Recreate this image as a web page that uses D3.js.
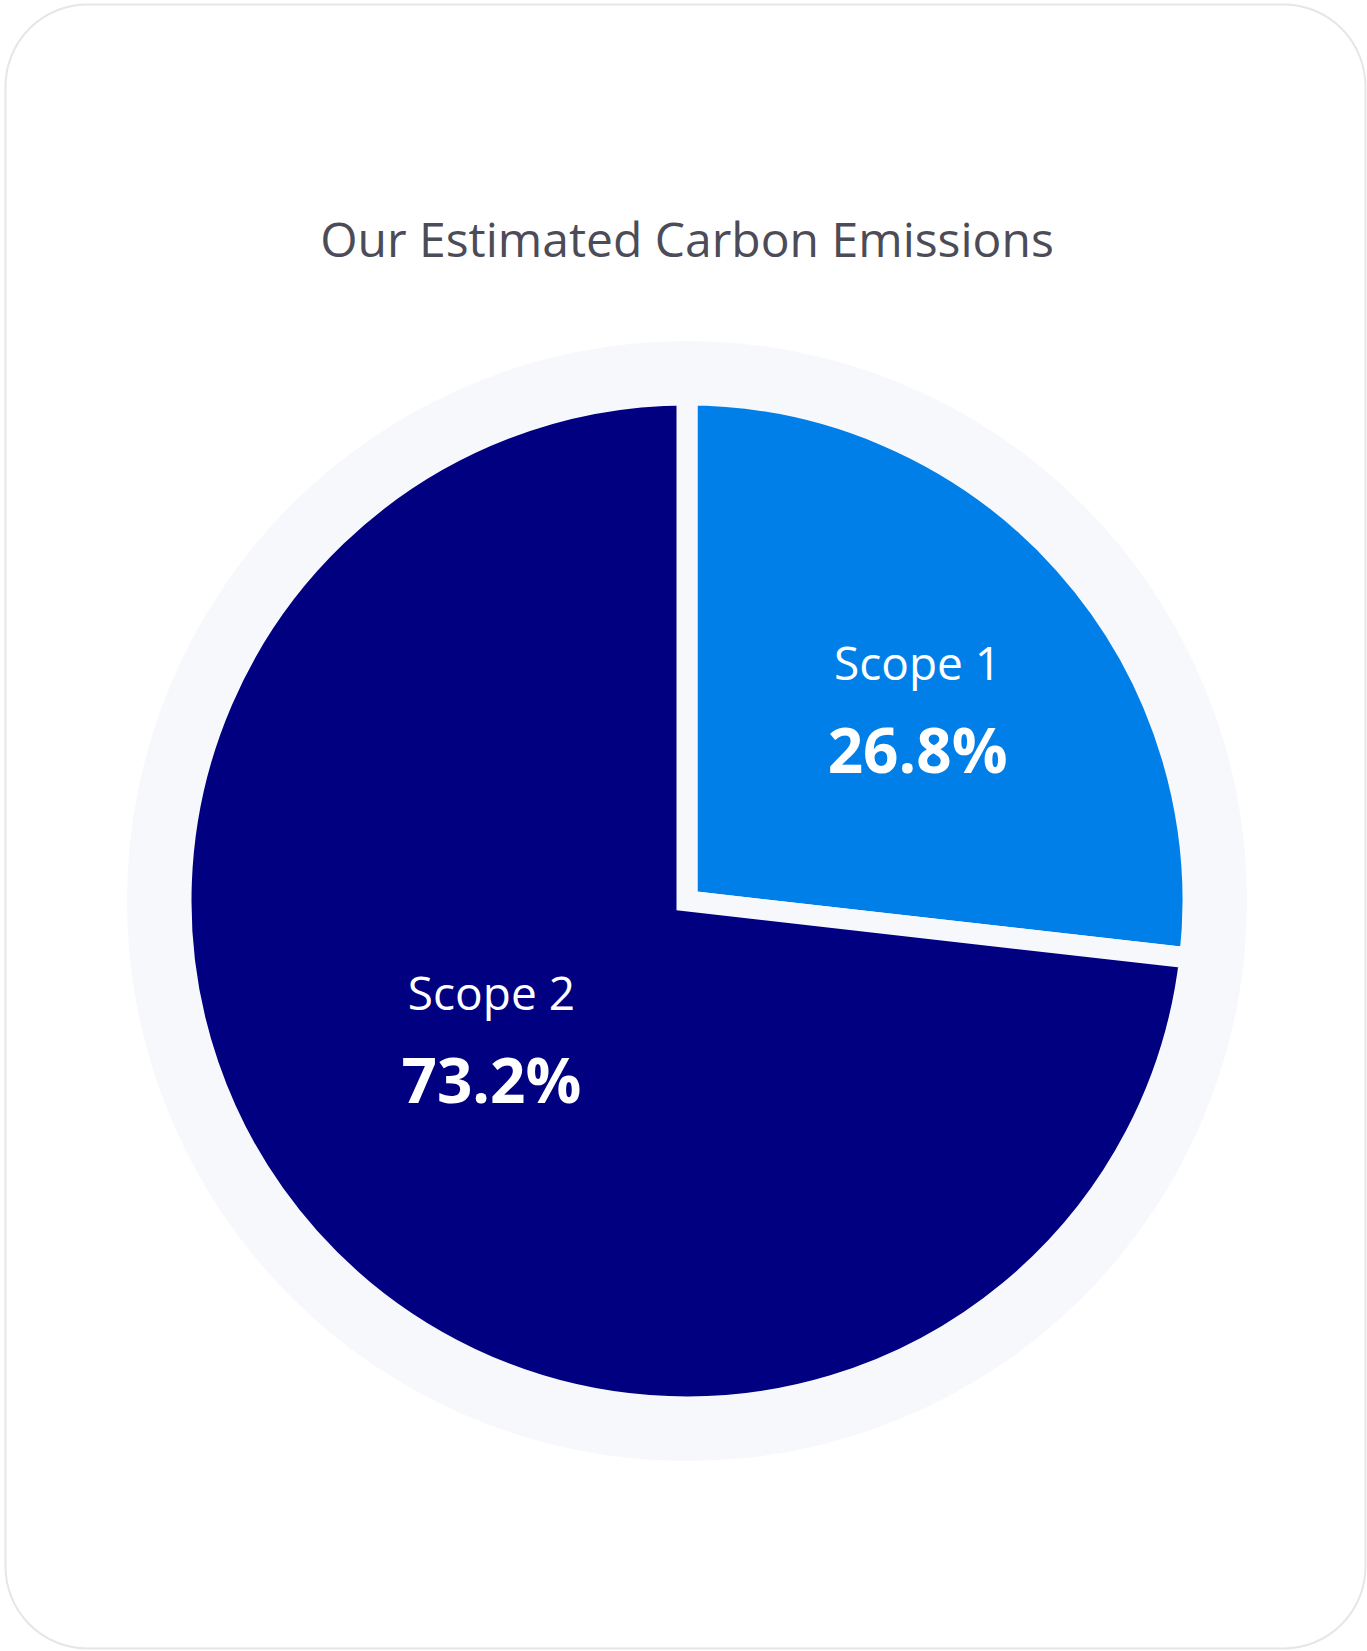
<!DOCTYPE html>
<html>
<head>
<meta charset="utf-8">
<script src="https://cdn.jsdelivr.net/npm/d3@7/dist/d3.min.js"></script>
<style>
  html, body { margin: 0; padding: 0; background: #ffffff; }
  svg { display: block; }
</style>
</head>
<body>
<svg id="chart" width="1367" height="1651"></svg>
<script>
// ---- data ----
const title = "Our Estimated Carbon Emissions";
const categories = ["Scope 1", "Scope 2"];
const values = [26.8, 73.2];
const colors = ["#017fe9", "#000080"];

// ---- layout ----
const W = 1367, H = 1651;
const cx = 687, cy = 901;
const bgRadius = 560;
const pieRadius = 506;
const gapWidth = 21;
const labelNudge = [[23, -36], [12, -76]];

const svg = d3.select("#chart");

// card
svg.append("rect")
  .attr("x", 5.5).attr("y", 4.5)
  .attr("width", 1360).attr("height", 1644)
  .attr("rx", 82).attr("ry", 82)
  .attr("fill", "#ffffff")
  .attr("stroke", "#e6e6e6")
  .attr("stroke-width", 2);

// title
svg.append("text")
  .attr("x", cx).attr("y", 257)
  .attr("text-anchor", "middle")
  .attr("font-family", "'Open Sans', sans-serif")
  .attr("font-size", 48)
  .attr("fill", "#4b4c58")
  .text(title);

const g = svg.append("g").attr("transform", `translate(${cx},${cy})`);

// background disc
g.append("circle").attr("r", bgRadius).attr("fill", "#f7f8fc");

const data = categories.map((c, i) => ({ name: c, value: values[i], color: colors[i] }));
const pie = d3.pie().value(d => d.value).sort(null);
const arcs = pie(data);
const arc = d3.arc().innerRadius(0).outerRadius(pieRadius);
const labelArc = d3.arc().innerRadius(pieRadius * 0.55).outerRadius(pieRadius * 0.55);

g.selectAll("path.slice")
  .data(arcs)
  .join("path")
  .attr("class", "slice")
  .attr("d", arc)
  .attr("fill", d => d.data.color)
  .attr("stroke", "#f7f8fc")
  .attr("stroke-width", gapWidth)
  .attr("stroke-linejoin", "miter");

const fmt = d3.format(".1f");
const total = d3.sum(values);

const lbl = g.selectAll("g.lbl")
  .data(arcs)
  .join("g")
  .attr("class", "lbl")
  .attr("transform", (d, i) => {
    const [x, y] = labelArc.centroid(d);
    return `translate(${x + labelNudge[i][0]},${y + labelNudge[i][1]})`;
  });

lbl.append("text")
  .attr("text-anchor", "middle")
  .attr("font-family", "'Open Sans', sans-serif")
  .attr("font-size", 46)
  .attr("fill", "#ffffff")
  .text(d => d.data.name);

lbl.append("text")
  .attr("y", 93)
  .attr("text-anchor", "middle")
  .attr("font-family", "'Open Sans', sans-serif")
  .attr("font-size", 62)
  .attr("font-weight", 700)
  .attr("fill", "#ffffff")
  .text(d => fmt(d.data.value / total * 100) + "%");
</script>
</body>
</html>
